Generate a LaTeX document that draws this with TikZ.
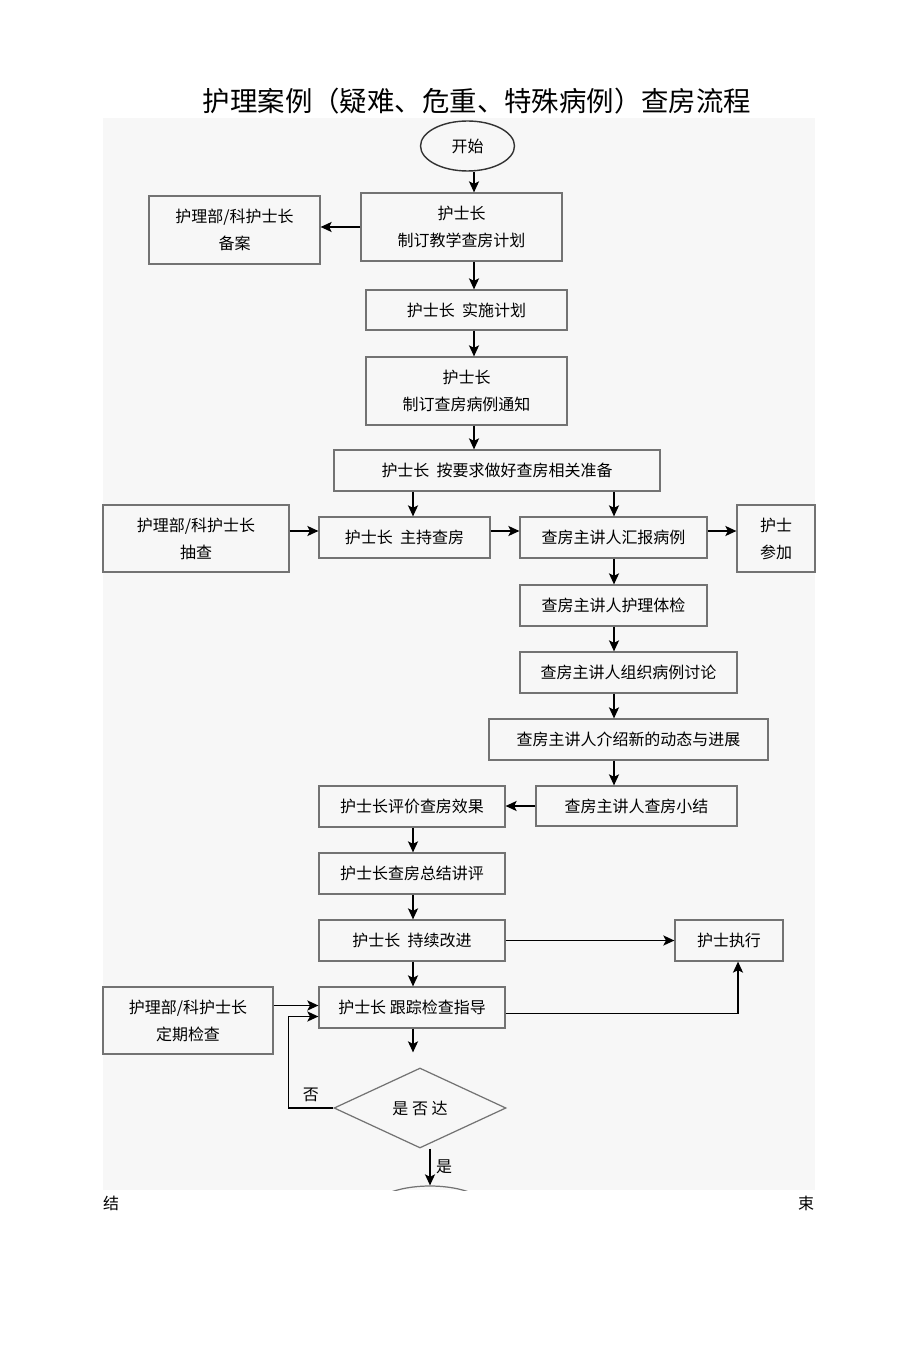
\documentclass[tikz,border=0pt]{standalone}
\usepackage{fontspec}
\setmainfont{Noto Sans CJK SC}
\usetikzlibrary{shapes.geometric,arrows.meta}

\begin{document}
\begin{tikzpicture}[x=0.02cm, y=-0.02cm,
    box/.style={draw=black!55, line width=0.7pt, align=center, inner sep=0pt,
        font=\fontsize{9.1}{15.4}\selectfont},
    arr/.style={draw=black, line width=1pt, -{Stealth[length=2.2mm, width=2mm, inset=0.5mm]}},
    lbl/.style={font=\fontsize{9.1}{12}\selectfont, inner sep=1pt}]
    \useasboundingbox (0,0) rectangle (920,1361);
    \fill[gray!6] (103,118) rectangle (815,1190);
    % title
    \node[font=\fontsize{15.6}{18}\selectfont] (title) at (477,101) {护理案例（疑难、危重、特殊病例）查房流程};
    % arrow columns and rows
    \coordinate (colM) at (474,0);
    \coordinate (colL) at (413,0);
    \coordinate (colR) at (614,0);
    \coordinate (rowA) at (0,531);
    % nodes
    \node[draw=black!80, line width=0.8pt, ellipse, minimum width=1.88cm, minimum height=1.0cm, inner sep=0pt,
        font=\fontsize{9.1}{12}\selectfont] (start) at (467.5,146) {开始};
    \node[box, minimum width=4.02cm, minimum height=1.36cm] (plan) at (461.5,227) {护士长\\制订教学查房计划};
    \node[box, minimum width=3.42cm, minimum height=1.36cm] (file) at (234.5,230) {护理部/科护士长\\备案};
    \node[box, minimum width=4.02cm, minimum height=0.8cm] (impl) at (466.5,310) {护士长\ \ 实施计划};
    \node[box, minimum width=4.02cm, minimum height=1.36cm] (notice) at (466.5,391) {护士长\\制订查房病例通知};
    \node[box, minimum width=6.52cm, minimum height=0.82cm] (prep) at (497,470.5) {护士长\ \ 按要求做好查房相关准备};
    \node[box, minimum width=3.72cm, minimum height=1.34cm] (check1) at (196,538.5) {护理部/科护士长\\抽查};
    \node[box, minimum width=3.42cm, minimum height=0.82cm] (host) at (404.5,537.5) {护士长\ \ 主持查房};
    \node[box, minimum width=3.74cm, minimum height=0.82cm] (report) at (613.5,537.5) {查房主讲人汇报病例};
    \node[box, minimum width=1.56cm, minimum height=1.34cm] (nurse) at (776,538.5) {护士\\参加};
    \node[box, minimum width=3.74cm, minimum height=0.82cm] (exam) at (613.5,605.5) {查房主讲人护理体检};
    \node[box, minimum width=4.34cm, minimum height=0.82cm] (discuss) at (628.5,672.5) {查房主讲人组织病例讨论};
    \node[box, minimum width=5.58cm, minimum height=0.82cm] (intro) at (628.5,739.5) {查房主讲人介绍新的动态与进展};
    \node[box, minimum width=4.02cm, minimum height=0.8cm] (summary) at (636.5,806) {查房主讲人查房小结};
    \node[box, minimum width=3.72cm, minimum height=0.82cm] (eval) at (412,806.5) {护士长评价查房效果};
    \node[box, minimum width=3.72cm, minimum height=0.82cm] (review) at (412,873.5) {护士长查房总结讲评};
    \node[box, minimum width=3.72cm, minimum height=0.82cm] (improve) at (412,940.5) {护士长\ \ 持续改进};
    \node[box, minimum width=2.16cm, minimum height=0.82cm] (exec) at (729,940.5) {护士执行};
    \node[box, minimum width=3.72cm, minimum height=0.82cm] (track) at (412,1007.5) {护士长 跟踪检查指导};
    \node[box, minimum width=3.4cm, minimum height=1.34cm] (check2) at (188,1020.5) {护理部/科护士长\\定期检查};
    \node[draw=black!55, line width=0.7pt, diamond, aspect=2.15, minimum width=3.44cm, minimum height=1.6cm,
        inner sep=0pt, font=\fontsize{9.1}{12}\selectfont] (dec) at (420,1108) {是 否 达};
    % end ellipse, cut by the grey field
    \begin{scope}
        \clip (103,118) rectangle (815,1190);
        \node[draw=black!55, line width=0.7pt, ellipse, minimum width=2.4cm, minimum height=1.0cm] (end) at (430,1211) {};
    \end{scope}
    \node[lbl] (endA) at (111,1203) {结};
    \node[lbl] (endB) at (806,1203) {束};
    % connectors
    \draw[arr] (start.south -| colM) -- (plan.north -| colM);
    \draw[arr] (plan.west) -- (plan.west -| file.east);
    \draw[arr] (plan.south -| colM) -- (impl.north -| colM);
    \draw[arr] (impl.south -| colM) -- (notice.north -| colM);
    \draw[arr] (notice.south -| colM) -- (prep.north -| colM);
    \draw[arr] (prep.south -| colL) -- (host.north -| colL);
    \draw[arr] (prep.south -| colR) -- (report.north -| colR);
    \draw[arr] (check1.east |- rowA) -- (host.west |- rowA);
    \draw[arr] (host.east |- rowA) -- (report.west |- rowA);
    \draw[arr] (report.east |- rowA) -- (nurse.west |- rowA);
    \draw[arr] (report.south -| colR) -- (exam.north -| colR);
    \draw[arr] (exam.south -| colR) -- (discuss.north -| colR);
    \draw[arr] (discuss.south -| colR) -- (intro.north -| colR);
    \draw[arr] (intro.south -| colR) -- (summary.north -| colR);
    \draw[arr] (summary.west) -- (summary.west -| eval.east);
    \draw[arr] (eval.south -| colL) -- (review.north -| colL);
    \draw[arr] (review.south -| colL) -- (improve.north -| colL);
    \draw[arr] (improve.south -| colL) -- (track.north -| colL);
    \draw[arr] (improve.east) -- (exec.west);
    \draw[arr] ([yshift=-0.12cm]track.east) -| ([xshift=0.18cm]exec.south);
    \draw[arr] ([yshift=0.04cm]check2.east |- track.west) -- ([yshift=0.04cm]track.west);
    \draw[arr] (dec.west) -- ++(-45,0) node[lbl, midway, above=2pt] {否} |- ([yshift=-0.18cm]track.west);
    \draw[arr, shorten >=0.3cm] (track.south -| colL) -- (dec.north -| colL);
    \draw[arr] (dec.south -| end) -- (end.north) node[lbl, midway, right=2pt] {是};
\end{tikzpicture}
\end{document}
